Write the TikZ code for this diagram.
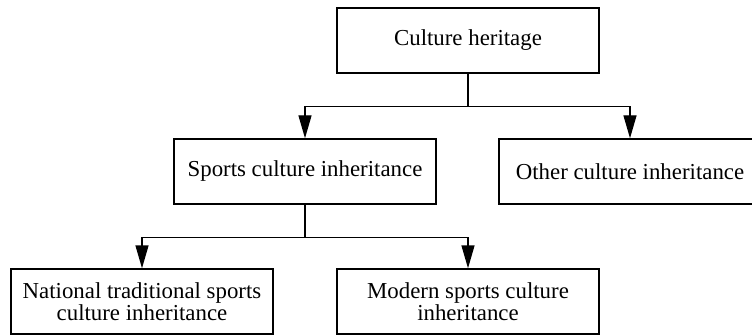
\documentclass[tikz,border=0pt]{standalone}
\usepackage{fontspec}
\setmainfont{Liberation Serif}
\usetikzlibrary{arrows.meta,calc}

\begin{document}
\begin{tikzpicture}[
    box/.style={draw, line width=0.8pt, minimum width=5.24cm, minimum height=1.3cm, align=center, inner sep=2pt, font=\fontsize{13pt}{12.5pt}\selectfont},
    link/.style={line width=0.8pt},
    flow/.style={link, -{Triangle[length=4.6mm, width=2.6mm]}}
]
    % Canvas
    \useasboundingbox (0, 0) rectangle (15.04, -6.7);

    % Boxes (three levels)
    \node[box] (heritage) at (9.36, -0.81) {Culture heritage};
    \node[box] (sports) at (6.10, -3.43) {Sports culture inheritance};
    \node[box] (other) at (12.60, -3.43) {Other culture inheritance};
    \node[box] (national) at (2.84, -6.03) {National traditional sports\\culture inheritance};
    \node[box] (modern) at (9.36, -6.03) {Modern sports culture\\inheritance};

    % Forks under the parent boxes
    \coordinate (fork1) at ($(heritage.south)+(0,-0.66)$);
    \coordinate (fork2) at ($(sports.south)+(0,-0.66)$);

    % Connectors
    \draw[link] (heritage.south) -- (fork1);
    \draw[flow] (fork1) -| (sports.north);
    \draw[flow] (fork1) -| (other.north);
    \draw[link] (sports.south) -- (fork2);
    \draw[flow] (fork2) -| (national.north);
    \draw[flow] (fork2) -| (modern.north);
\end{tikzpicture}
\end{document}
